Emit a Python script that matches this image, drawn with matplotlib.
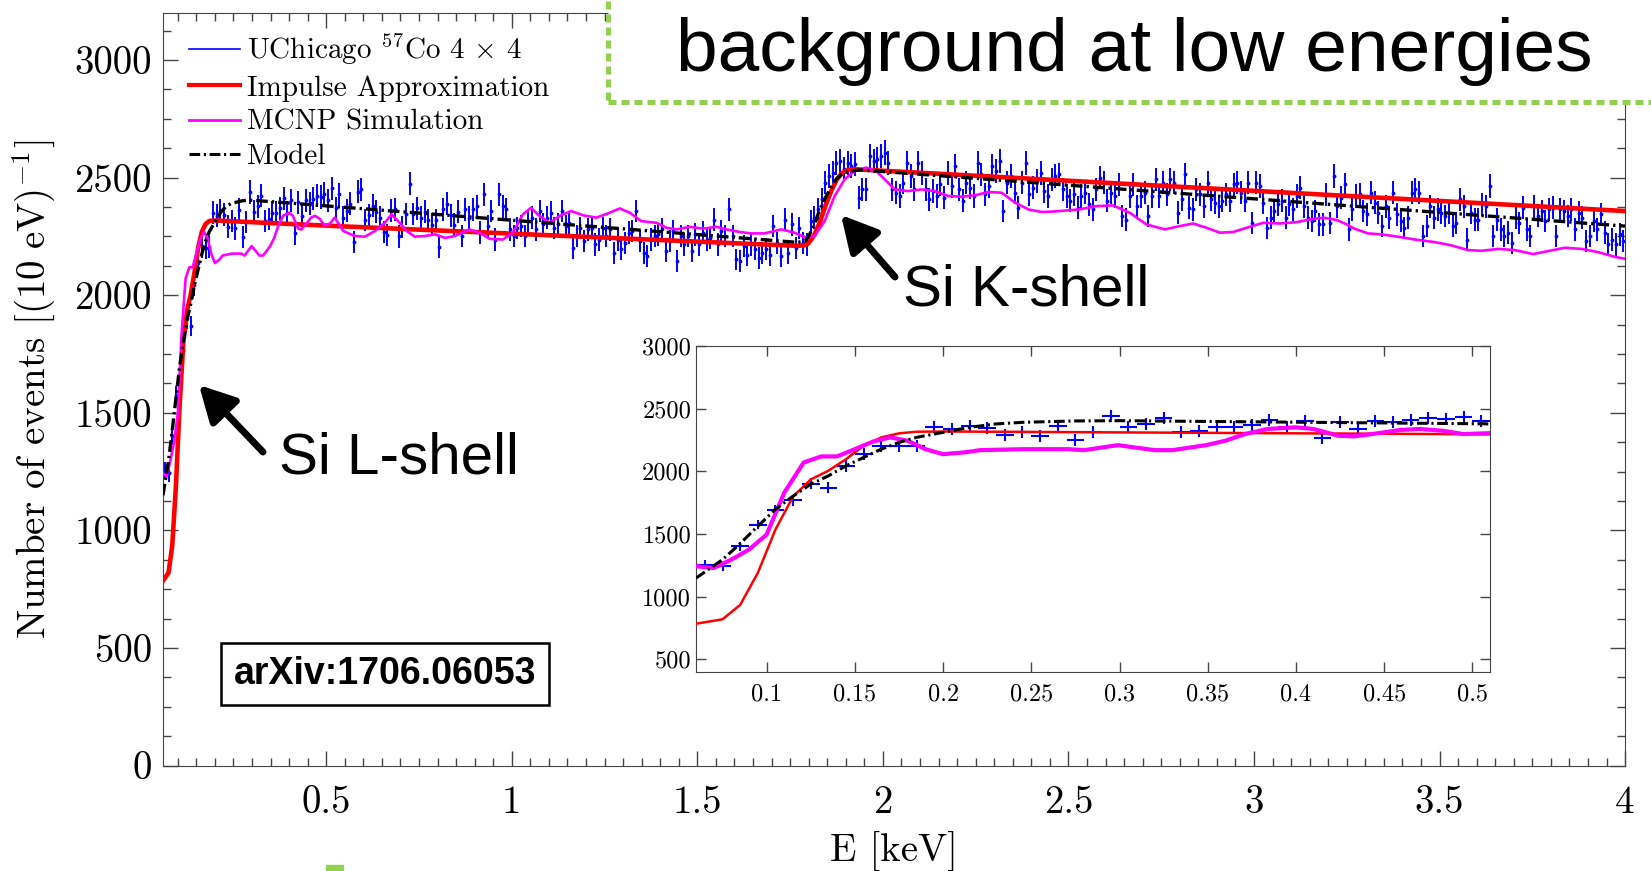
import numpy as np
import matplotlib
matplotlib.use("Agg")
import matplotlib.pyplot as plt
from matplotlib.lines import Line2D
from matplotlib.patches import Rectangle
from matplotlib.ticker import MultipleLocator, FuncFormatter

plt.rcParams["font.family"] = "cmr10"
plt.rcParams["mathtext.fontset"] = "cm"
plt.rcParams["axes.formatter.use_mathtext"] = True

# measured spectrum, 10 eV bins starting at 65 eV
E_START = 0.065
BIN_W = 0.01
counts = [
    1255, 1243, 1403, 1576, 1691, 1769, 1902, 1870, 2044, 2137,
    2204, 2199, 2204, 2351, 2338, 2359, 2343, 2292, 2316, 2284,
    2364, 2249, 2311, 2439, 2356, 2378, 2423, 2316, 2324, 2351,
    2351, 2370, 2412, 2351, 2404, 2263, 2396, 2338, 2404, 2391,
    2410, 2423, 2418, 2431, 2404,
    2455, 2370, 2430, 2330, 2360, 2390, 2225, 2440, 2450, 2320,
    2340, 2380, 2355, 2330, 2270, 2255, 2360, 2365, 2250, 2290,
    2345, 2475, 2345, 2370, 2330, 2355, 2320, 2300, 2320, 2205,
    2365, 2390, 2340, 2300, 2355,
    2252, 2365, 2330, 2365, 2379, 2266, 2429, 2294, 2358, 2237,
    2429, 2379, 2365, 2280, 2252, 2287, 2294, 2252, 2315, 2330,
    2280, 2358, 2301, 2330, 2351, 2287, 2301, 2358, 2294, 2308,
    2202, 2252, 2287, 2230, 2280, 2287, 2216, 2237, 2287, 2252,
    2280, 2180, 2237, 2195, 2223, 2266, 2273, 2358, 2230, 2180,
    2166, 2237, 2252, 2259, 2280, 2188, 2230, 2273, 2145, 2252,
    2216, 2252, 2188, 2259, 2216, 2266, 2237, 2244, 2322, 2216,
    2273, 2252, 2365, 2252, 2152, 2145, 2209, 2173, 2216,
    2195, 2159, 2180, 2195, 2173, 2294, 2223, 2166, 2322, 2180,
    2301, 2202, 2287, 2223, 2216, 2315, 2330, 2365, 2408, 2479,
    2507, 2521, 2564, 2571, 2536, 2564, 2550, 2557, 2415, 2450,
    2450, 2592, 2571, 2578, 2592, 2607, 2564, 2450, 2436, 2422,
    2479, 2564, 2507, 2450, 2564, 2521, 2450, 2408, 2443, 2422,
    2472, 2415, 2521, 2465, 2550, 2450, 2401, 2479, 2457, 2422,
    2564, 2514, 2429, 2465, 2550, 2528, 2571, 2358, 2479, 2507,
    2436, 2372, 2479, 2564, 2429, 2457, 2486, 2521, 2443, 2422,
    2493,
    2507, 2514, 2450, 2422, 2401, 2429, 2372, 2422, 2436, 2386,
    2365, 2450, 2500, 2479, 2401, 2436, 2422, 2472, 2337, 2322,
    2422, 2472, 2379, 2422, 2436, 2337, 2422, 2493, 2422, 2479,
    2429, 2493, 2479, 2351, 2408, 2514, 2372, 2365, 2450, 2429,
    2379, 2479, 2408, 2393, 2379, 2401, 2429, 2401, 2472, 2479,
    2436, 2401, 2479, 2308, 2479, 2465, 2394, 2287, 2330, 2358,
    2386, 2401, 2330, 2386, 2365, 2422, 2457, 2379, 2330, 2315,
    2358, 2301, 2301, 2429, 2308, 2507, 2379, 2415, 2472,
    2280, 2365, 2422, 2429, 2358, 2344, 2436, 2394, 2351, 2294,
    2379, 2330, 2436, 2344, 2315, 2287, 2330, 2436, 2450, 2436,
    2252, 2294, 2379, 2330, 2365, 2351, 2337, 2351, 2294, 2308,
    2408, 2379, 2237, 2351, 2322, 2322, 2386, 2379, 2465, 2252,
    2322, 2280, 2252, 2266, 2223, 2330, 2308, 2372, 2280, 2252,
    2379, 2337, 2358, 2315, 2365, 2372, 2252, 2365, 2358, 2337,
    2365, 2280, 2351, 2330, 2230, 2252, 2315, 2280, 2344, 2266,
    2216, 2237, 2216, 2259, 2230,
]
energy = E_START + BIN_W * np.arange(len(counts))
err = np.sqrt(counts)

# Impulse Approximation
ia_e = [0.06, 0.075, 0.085, 0.095, 0.105, 0.115, 0.125, 0.135, 0.145, 0.155,
        0.165, 0.175, 0.185, 0.2, 0.5, 1.0, 1.5, 1.77, 1.79, 1.80, 1.815,
        1.83, 1.845, 1.86, 1.875, 1.89, 1.905, 1.92, 1.935, 2.5, 3.0, 3.5, 4.0]
ia_y = [785, 820, 935, 1190, 1536, 1800, 1935, 2005, 2097, 2204,
        2271, 2303, 2316, 2318, 2296, 2262, 2228, 2210, 2213, 2222, 2255,
        2310, 2380, 2440, 2490, 2520, 2532, 2536, 2535, 2487, 2444, 2401, 2358]

# Model
model_e = [0.06, 0.075, 0.085, 0.095, 0.105, 0.115, 0.125, 0.135, 0.145, 0.155,
           0.165, 0.175, 0.185, 0.2, 0.215, 0.23, 0.245, 0.275, 0.3, 0.5, 1.0,
           1.5, 1.77, 1.79, 1.80, 1.815, 1.83, 1.845, 1.86, 1.875, 1.89, 1.91,
           1.94, 2.5, 3.0, 3.5, 4.0]
model_y = [1149, 1296, 1424, 1563, 1697, 1803, 1897, 1964, 2044, 2111,
           2177, 2231, 2271, 2311, 2351, 2378, 2391, 2402, 2404, 2380, 2319,
           2258, 2225, 2230, 2250, 2300, 2365, 2415, 2457, 2495, 2516, 2528,
           2533, 2468, 2410, 2352, 2294]

# MCNP Simulation
mcnp_e = [0.06, 0.07, 0.08, 0.09, 0.10, 0.11, 0.121, 0.131, 0.14, 0.15,
          0.16, 0.17, 0.18, 0.19, 0.20, 0.212, 0.221, 0.246, 0.271, 0.28,
          0.299, 0.32, 0.33, 0.349, 0.36, 0.371, 0.384, 0.40, 0.41, 0.424,
          0.433, 0.446, 0.459, 0.47, 0.483, 0.495, 0.51, 0.523, 0.546, 0.577,
          0.604, 0.631, 0.658, 0.676, 0.694, 0.717, 0.739, 0.766, 0.793, 0.82,
          0.847, 0.886, 0.913, 0.94, 0.976, 1.003, 1.03, 1.052, 1.075, 1.102,
          1.129, 1.16, 1.192, 1.228, 1.259, 1.291, 1.318, 1.349, 1.39, 1.417,
          1.444, 1.48, 1.515, 1.551, 1.578, 1.614, 1.645, 1.681, 1.726, 1.762,
          1.794, 1.816, 1.843, 1.87, 1.897, 1.924, 1.955, 1.982, 2.005, 2.032,
          2.068, 2.104, 2.14, 2.176, 2.212, 2.248, 2.284, 2.32, 2.356, 2.392,
          2.428, 2.46, 2.53, 2.575, 2.62, 2.665, 2.71, 2.76, 2.8, 2.836,
          2.872, 2.908, 2.944, 2.98, 3.025, 3.07, 3.115, 3.151, 3.187, 3.223,
          3.25, 3.271, 3.307, 3.343, 3.388, 3.433, 3.487, 3.532, 3.577, 3.613,
          3.658, 3.703, 3.752, 3.793, 3.838, 3.883, 3.928, 3.973, 4.0]
mcnp_y = [1243, 1229, 1296, 1376, 1496, 1830, 2071, 2119, 2119, 2177,
          2236, 2271, 2244, 2177, 2137, 2151, 2169, 2177, 2177, 2169,
          2209, 2169, 2169, 2209, 2244, 2297, 2338, 2351, 2338, 2284,
          2279, 2303, 2330, 2338, 2324, 2297, 2305, 2330, 2273, 2252,
          2249, 2273, 2308, 2344, 2315, 2273, 2249, 2252, 2259, 2244,
          2252, 2280, 2266, 2240, 2237, 2266, 2344, 2372, 2337, 2308,
          2337, 2358, 2340, 2330, 2348, 2369, 2351, 2315, 2308, 2287,
          2280, 2291, 2283, 2291, 2280, 2269, 2263, 2263, 2280, 2266,
          2244, 2252, 2315, 2422, 2493, 2528, 2543, 2528, 2493, 2450,
          2443, 2450, 2443, 2422, 2419, 2425, 2439, 2436, 2394, 2365,
          2354, 2356, 2365, 2379, 2382, 2351, 2301, 2280, 2294, 2305,
          2287, 2266, 2269, 2287, 2308, 2305, 2311, 2322, 2330, 2320,
          2301, 2283, 2263, 2259, 2249, 2237, 2226, 2212, 2192, 2189,
          2197, 2192, 2175, 2188, 2202, 2197, 2183, 2163, 2155]

BLUE, RED, MAGENTA = "#0000FF", "#FF0000", "#FF00FF"
GREEN = "#92D050"
DASHDOT = (0, (3.5, 1.2, 0.7, 1.2))
W, H = 1651, 871


def fpos(x, y):
    # pixel position -> figure fraction
    return x / W, 1 - y / H


fmt = FuncFormatter(lambda v, p: "%g" % v)

fig = plt.figure(figsize=(16.51, 8.71), dpi=100)
ax = fig.add_axes([0.0987, 0.1211, 0.8856, 0.8639])

ax.errorbar(energy, counts, yerr=err, fmt=".", color=BLUE, ms=3.5,
            elinewidth=1.4, capsize=0, zorder=2)
ax.plot(ia_e, ia_y, color=RED, lw=3.3, zorder=3)
ax.plot(mcnp_e, mcnp_y, color=MAGENTA, lw=1.9, zorder=4)
ax.plot(model_e, model_y, color="k", lw=2.4, ls=DASHDOT, zorder=5)

ax.set_xlim(0.06, 4)
ax.set_ylim(0, 3200)
ax.xaxis.set_major_locator(MultipleLocator(0.5))
ax.xaxis.set_minor_locator(MultipleLocator(0.05))
ax.yaxis.set_major_locator(MultipleLocator(500))
ax.yaxis.set_minor_locator(MultipleLocator(125))
ax.xaxis.set_major_formatter(fmt)
ax.yaxis.set_major_formatter(fmt)
ax.tick_params(which="both", direction="in", top=True, right=True,
               color="#444444", labelsize=28)
ax.tick_params(which="major", length=11, width=1)
ax.tick_params(which="minor", length=6, width=1)
ax.tick_params(axis="x", pad=14)
ax.tick_params(axis="y", pad=8)
for s in ax.spines.values():
    s.set_color("#444444")
ax.set_xlabel("E [keV]", fontsize=28, labelpad=8)
ax.set_ylabel(r"Number of events $[(10\ \mathrm{eV})^{-1}]$", fontsize=28,
              labelpad=12)

handles = [
    Line2D([], [], color=BLUE, lw=1.2),
    Line2D([], [], color=RED, lw=3),
    Line2D([], [], color=MAGENTA, lw=2),
    Line2D([], [], color="k", lw=2.2, ls=DASHDOT),
]
labels = [r"UChicago $^{57}$Co 4 $\times$ 4", "Impulse Approximation",
          "MCNP Simulation", "Model"]
ax.legend(handles, labels, loc="upper left", bbox_to_anchor=fpos(189, 32),
          bbox_transform=fig.transFigure, frameon=False, fontsize=21,
          handlelength=1.75, handletextpad=0.25, labelspacing=0.27,
          borderpad=0, borderaxespad=0)

# inset zoom on the L-shell edge
axin = fig.add_axes([0.4216, 0.2285, 0.4809, 0.3743])
axin.errorbar(energy, counts, yerr=err, xerr=BIN_W / 2, fmt="none",
              ecolor=BLUE, elinewidth=1.5, capsize=0, zorder=2)
axin.plot(ia_e, ia_y, color=RED, lw=1.8, zorder=3)
axin.plot(mcnp_e, mcnp_y, color=MAGENTA, lw=3.0, zorder=4)
axin.plot(model_e, model_y, color="k", lw=2.2, ls=DASHDOT, zorder=5)
axin.set_xlim(0.06, 0.51)
axin.set_ylim(400, 3000)
axin.xaxis.set_major_locator(MultipleLocator(0.05))
axin.yaxis.set_major_locator(MultipleLocator(500))
axin.xaxis.set_major_formatter(fmt)
axin.yaxis.set_major_formatter(fmt)
axin.tick_params(which="both", direction="in", top=True, right=True,
                 color="#444444", labelsize=17.5, length=7, width=1)
axin.tick_params(axis="x", pad=8)
for s in axin.spines.values():
    s.set_color("#444444")

# annotations
arrow = dict(arrowstyle="-|>,head_length=0.6,head_width=0.32", lw=5,
             color="k", mutation_scale=36, shrinkA=0, shrinkB=0)
ax.annotate("", xy=fpos(199, 385), xycoords="figure fraction",
            xytext=fpos(263, 452), textcoords="figure fraction",
            arrowprops=arrow)
ax.annotate("", xy=fpos(841, 215), xycoords="figure fraction",
            xytext=fpos(895, 277), textcoords="figure fraction",
            arrowprops=arrow)
fig.text(*fpos(279, 458), "Si L-shell", fontsize=42, family="Liberation Sans",
         ha="left", va="center")
fig.text(*fpos(903, 290), "Si K-shell", fontsize=42, family="Liberation Sans",
         ha="left", va="center")
fig.text(*fpos(385, 674), "arXiv:1706.06053", fontsize=27, weight="bold",
         family="Liberation Sans", ha="center", va="center",
         bbox=dict(boxstyle="square,pad=0.35", fc="white", ec="k", lw=1.8))

# slide callout box (top right) and stray box edge at the bottom
box = Rectangle(fpos(608, 102), (1700 - 608) / W, 0.2, transform=fig.transFigure,
                facecolor="white", edgecolor=GREEN, lw=3.6,
                ls=(0, (1.6, 1.0)), zorder=10, clip_on=False)
fig.add_artist(box)
fig.text(*fpos(1134, 52), "background at low energies", fontsize=54,
         family="Liberation Sans", ha="center", va="center", zorder=11)
fig.add_artist(Rectangle(fpos(326, 871), 17 / W, 6 / H,
                         transform=fig.transFigure, color=GREEN, zorder=10))

fig.savefig("out.png", dpi=100)
